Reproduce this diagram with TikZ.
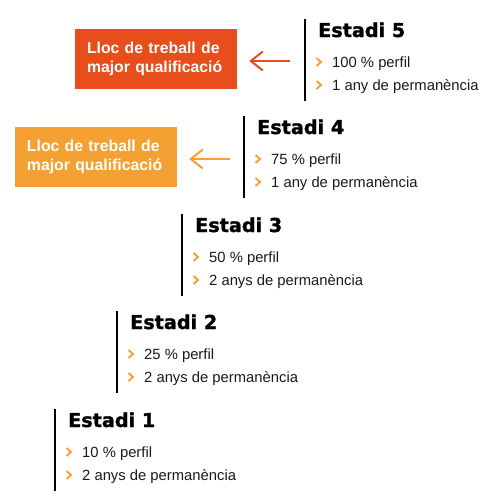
\documentclass[tikz,border=0pt]{standalone}
\usepackage{fontspec}
\setmainfont{Liberation Sans}
\newfontfamily\titlefont{DejaVu Sans}[BoldFeatures={FakeBold=1.3}]
\usetikzlibrary{arrows.meta}
\definecolor{darkor}{HTML}{E84E1B}
\definecolor{lightor}{HTML}{F4A033}
\definecolor{bodytext}{HTML}{1A1A1A}
\tikzset{
  stageline/.style={line width=2pt, black},
  stagetitle/.style={anchor=base west, inner sep=0pt, font=\titlefont\bfseries\fontsize{19.2}{23}\selectfont},
  stageitem/.style={anchor=base west, inner sep=0pt, text=bodytext, font=\fontsize{14.8}{18}\selectfont},
  chevron/.style={line width=1.9pt, lightor, line join=miter},
  jobbox/.style={draw=none, minimum width=162pt, minimum height=60pt, text width=138pt, align=left,
    inner xsep=12pt, inner ysep=0pt, text=white, font=\bfseries\fontsize{15.8}{19}\selectfont},
  pointer/.style={line width=2pt, {Straight Barb[length=12pt,width=19pt]}-},
}
\newcommand\drawstage[5]{%
  \coordinate (top#1) at (#2,#3);
  \coordinate (bot#1) at (#2,#3+82);
  \draw[stageline] (top#1) -- (bot#1);
  \node[stagetitle] (title#1) at (#2+13,#3+18) {Estadi #1};
  \node[stageitem] (itemA#1) at (#2+27,#3+48) {#4};
  \node[stageitem] (itemB#1) at (#2+27,#3+71) {#5};
  \draw[chevron] (#2+11.5,#3+39) -- (#2+16,#3+43) -- (#2+11.5,#3+47);
  \draw[chevron] (#2+11.5,#3+62) -- (#2+16,#3+66) -- (#2+11.5,#3+70);
}
\begin{document}
\begin{tikzpicture}[x=1pt,y=-1pt]
  \fill[white] (0,0) rectangle (495,504);
  \useasboundingbox (0,0) rectangle (495,504);
  \drawstage{5}{305}{19}{100 \% perfil}{1 any de permanència}
  \drawstage{4}{244}{116}{75 \% perfil}{1 any de permanència}
  \drawstage{3}{182}{214}{50 \% perfil}{2 anys de permanència}
  \drawstage{2}{117}{311}{25 \% perfil}{2 anys de permanència}
  \drawstage{1}{55}{409}{10 \% perfil}{2 anys de permanència}
  \node[jobbox, fill=darkor] (box5) at (156,59) {Lloc de treball de\\major qualificació};
  \node[jobbox, fill=lightor] (box4) at (96,157) {Lloc de treball de\\major qualificació};
  \coordinate (arr5) at (290,61);
  \coordinate (arr4) at (230,159);
  \draw[pointer, darkor, shorten <=12pt] (box5.east |- arr5) -- (arr5);
  \draw[pointer, lightor, shorten <=12pt] (box4.east |- arr4) -- (arr4);
\end{tikzpicture}
\end{document}
